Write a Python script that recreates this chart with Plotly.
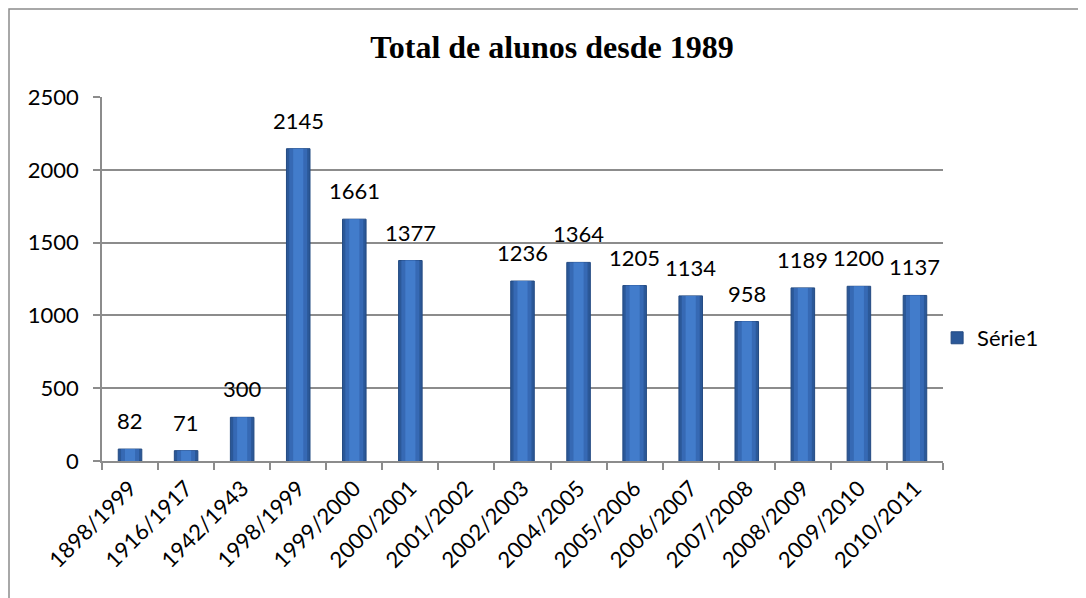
import plotly.graph_objects as go

# DATA
anos = ["1898/1999", "1916/1917", "1942/1943", "1998/1999", "1999/2000",
        "2000/2001", "2001/2002", "2002/2003", "2004/2005", "2005/2006",
        "2006/2007", "2007/2008", "2008/2009", "2009/2010", "2010/2011"]
alunos = [82, 71, 300, 2145, 1661, 1377, None, 1236, 1364, 1205,
          1134, 958, 1189, 1200, 1137]
y_ticks = [0, 500, 1000, 1500, 2000, 2500]

fonte = "Lato, Calibri, sans-serif"
cinza = "#8c8c8c"

# PLOT AREA IN FIGURE PIXELS (PAGE HAS AN 8PX BODY MARGIN)
L, T, W, H = 94, 89, 841, 364

fig = go.Figure()

# OUTER (DARK EDGE) BAR
fig.add_trace(go.Bar(x=anos, y=alunos, name="Série1",
                     width=0.42,
                     marker=dict(color="#2B5898", line=dict(color="#234a82", width=1)),
                     showlegend=True))

# LIGHTER LAYERS FOR THE ROUNDED / BEVEL LOOK
for w, c in [(0.32, "#3669B4"), (0.18, "#427CCB")]:
    fig.add_trace(go.Bar(x=anos, y=alunos, name="Série1",
                         width=w,
                         marker=dict(color=c, line=dict(width=0)),
                         showlegend=False, hoverinfo="skip"))

# DATA LABELS ABOVE BARS
for a, v in zip(anos, alunos):
    if v is None:
        continue
    fig.add_annotation(x=a, y=v, text=str(v), showarrow=False,
                       yanchor="bottom", yshift=13,
                       font=dict(family=fonte, size=22, color="black"))

fig.update_layout(
    width=1086, height=598,
    margin=dict(l=L, r=1086 - L - W, t=T, b=598 - T - H),
    paper_bgcolor="white", plot_bgcolor="white",
    barmode="overlay",
    title=dict(text="<b>Total de alunos desde 1989</b>",
               x=544 / 1086, xanchor="center", y=1 - 39 / 598, yanchor="middle",
               font=dict(family="Liberation Serif, Times New Roman, serif", size=32, color="black")),
    font=dict(family=fonte, size=22, color="black"),
    legend=dict(x=0.993, y=0.338, xanchor="left", yanchor="middle",
                font=dict(family=fonte, size=22), itemwidth=30),
    showlegend=True,
)

fig.update_yaxes(range=[0, 2500], tickvals=y_ticks,
                 showgrid=True, gridcolor=cinza, gridwidth=1.5,
                 showline=True, linecolor=cinza, linewidth=1.5,
                 ticks="outside", ticklen=7, tickcolor=cinza, tickwidth=1.5,
                 ticklabelstandoff=10,
                 zeroline=False, tickfont=dict(family=fonte, size=22))
fig.update_xaxes(type="category", tickangle=-45, showgrid=False,
                 showline=True, linecolor=cinza, linewidth=1.5,
                 ticks="outside", ticklen=7, tickcolor=cinza, tickwidth=1.5,
                 tickson="boundaries", ticklabelstandoff=4,
                 tickfont=dict(family=fonte, size=22))

# CHART BORDER (ONLY LEFT AND TOP VISIBLE IN THE PICTURE)
fig.add_shape(type="rect", xref="paper", yref="paper",
              x0=(1 - L) / W, x1=(1100 - L) / W,
              y0=(T + H - 620) / H, y1=(T + H - 1) / H,
              line=dict(color=cinza, width=1.5), layer="below")

fig.write_html("out.html")
